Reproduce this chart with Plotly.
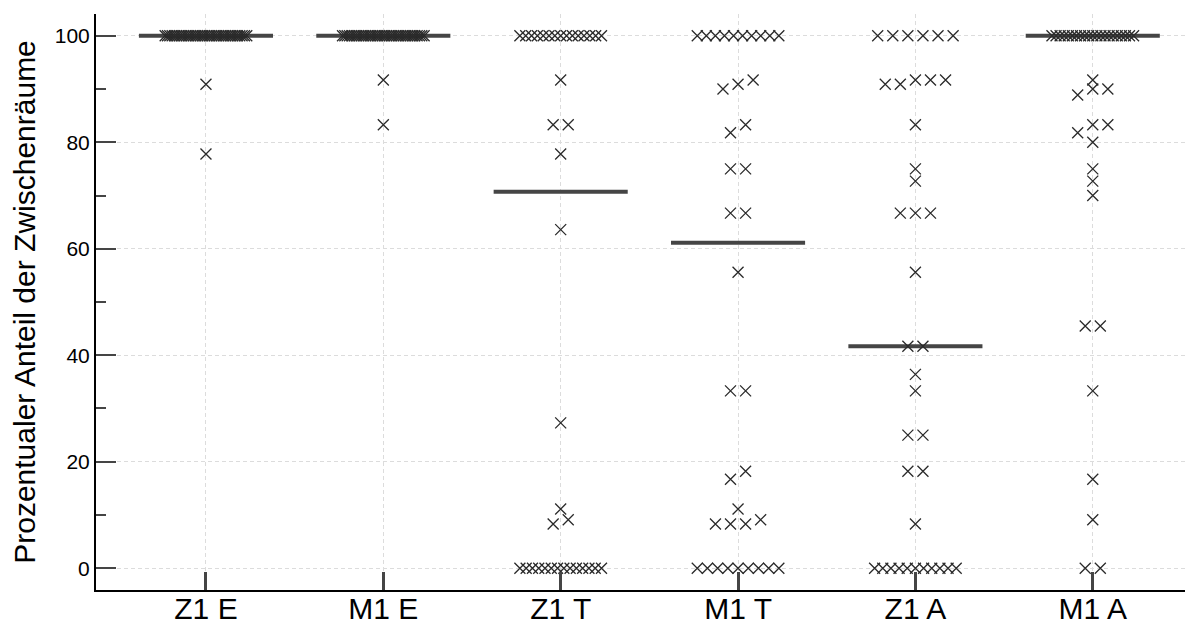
import numpy as np
import plotly.graph_objects as go

categories = ["Z1 E", "M1 E", "Z1 T", "M1 T", "Z1 A", "M1 A"]

# values and how many participants had each value
z1_e_values = [100, 90.9, 77.8]
z1_e_counts = [36, 1, 1]

m1_e_values = [100, 91.7, 83.3]
m1_e_counts = [36, 1, 1]

z1_t_values = [100, 91.7, 83.3, 77.8, 63.6, 27.3, 11.1, 9.1, 8.3, 0]
z1_t_counts = [15, 1, 2, 1, 1, 1, 1, 1, 1, 14]

m1_t_values = [100, 91.7, 90.9, 90, 83.3, 81.8, 75, 66.7, 55.6, 33.3, 18.2, 16.7, 11.1, 9.1, 8.3, 0]
m1_t_counts = [10, 1, 1, 1, 1, 1, 2, 2, 1, 2, 1, 1, 1, 1, 3, 9]

z1_a_values = [100, 91.7, 90.9, 83.3, 75, 72.7, 66.7, 55.6, 41.7, 36.4, 33.3, 25, 18.2, 8.3, 0]
z1_a_counts = [6, 3, 2, 1, 1, 1, 3, 1, 2, 1, 1, 2, 2, 1, 11]

m1_a_values = [100, 91.7, 90, 88.9, 83.3, 81.8, 80, 75, 72.7, 70, 45.5, 33.3, 16.7, 9.1, 0]
m1_a_counts = [21, 1, 2, 1, 2, 1, 1, 1, 1, 1, 2, 1, 1, 1, 2]

groups = [
    (z1_e_values, z1_e_counts),
    (m1_e_values, m1_e_counts),
    (z1_t_values, z1_t_counts),
    (m1_t_values, m1_t_counts),
    (z1_a_values, z1_a_counts),
    (m1_a_values, m1_a_counts),
]


def spread_offsets(vals, thresh=1.6, step_max=0.085, width_max=0.46):
    vals = np.asarray(vals, dtype=float)
    order = np.argsort(vals, kind="stable")
    clusters = []
    cur = [order[0]]
    for idx in order[1:]:
        if vals[idx] - vals[cur[-1]] <= thresh:
            cur.append(idx)
        else:
            clusters.append(cur)
            cur = [idx]
    clusters.append(cur)
    offs = np.zeros(len(vals))
    for c in clusters:
        n = len(c)
        if n > 1:
            step = min(step_max, width_max / (n - 1))
            for k, idx in enumerate(c):
                offs[idx] = (k - (n - 1) / 2) * step
    return offs


fig = go.Figure()

line_col = "#454545"
half_w = 0.378

for i, (vals, cnts) in enumerate(groups):
    y = np.repeat(np.asarray(vals, dtype=float), cnts)
    med = float(np.median(y))
    fig.add_trace(go.Scatter(
        x=[i - half_w, i + half_w], y=[med, med], mode="lines",
        line=dict(color=line_col, width=4), hoverinfo="skip", showlegend=False))

for i, (vals, cnts) in enumerate(groups):
    y = np.repeat(np.asarray(vals, dtype=float), cnts)
    x = i + spread_offsets(y)
    fig.add_trace(go.Scatter(
        x=x, y=y, mode="markers",
        marker=dict(symbol="x-thin", size=11, color="#2a2a2a",
                    line=dict(width=1.3, color="#2a2a2a")),
        showlegend=False, name=categories[i]))

font_family = "Arial, Liberation Sans, sans-serif"

fig.update_layout(
    width=1198, height=633,
    margin=dict(l=96, r=13, t=14, b=43),
    paper_bgcolor="white", plot_bgcolor="white",
    font=dict(family=font_family, color="black"),
)

fig.update_xaxes(
    range=[-0.62, 5.52], automargin=False,
    tickmode="array", tickvals=list(range(len(categories))), ticktext=categories,
    tickfont=dict(size=30, family=font_family, color="black"),
    ticklabelstandoff=-9,
    ticks="inside", ticklen=18, tickwidth=3, tickcolor=line_col,
    showline=True, linecolor="black", linewidth=2,
    showgrid=True, gridcolor="#dcdcdc", griddash="4px,3px", gridwidth=1,
    zeroline=False,
)

fig.update_yaxes(
    range=[-4.1, 104.1], automargin=False,
    tickmode="array", tickvals=[0, 20, 40, 60, 80, 100],
    tickfont=dict(size=21, family=font_family, color="black"),
    ticks="inside", ticklen=20, tickwidth=2, tickcolor=line_col,
    minor=dict(ticks="inside", ticklen=10, tickwidth=1.5, tickcolor=line_col,
               dtick=10, tick0=0, showgrid=False),
    showline=True, linecolor="black", linewidth=2,
    showgrid=True, gridcolor="#dcdcdc", griddash="4px,3px", gridwidth=1,
    zeroline=False,
    title=dict(text="Prozentualer Anteil der Zwischenräume",
               font=dict(size=30, family=font_family, color="black"), standoff=10),
)

fig.write_html("out.html")
